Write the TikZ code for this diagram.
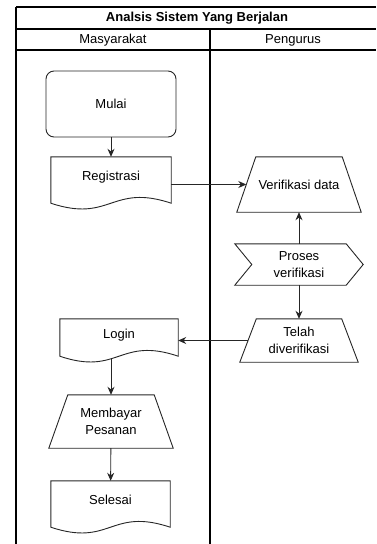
\documentclass[tikz,border=0pt]{standalone}
\usepackage{fontspec}
\setmainfont{Liberation Sans}
\usetikzlibrary{arrows.meta,positioning}

\begin{document}
\begin{tikzpicture}[x=1pt,y=-1pt,
  every node/.style={font=\fontsize{13}{16.5}\selectfont, align=center, inner sep=0pt},
  garis/.style={draw=black!85, line width=0.9pt},
  bingkai/.style={draw=black, line width=1.1pt},
  panah/.style={-{Stealth[length=8pt,width=7pt]}, line width=0.9pt, black!85},
  terminal/.style={garis, rectangle, rounded corners=8pt, minimum width=130pt, minimum height=66pt},
  dokumen/.style={rectangle, text depth=8pt},
  kotak/.style={rectangle}
]
\useasboundingbox (0,0) rectangle (376,544);

% swimlane
\draw [bingkai] (16,7) -- (376,7);
\draw [bingkai] (16,29) -- (376,29);
\draw [bingkai] (16,50) -- (376,50);
\draw [bingkai] (16,7) -- (16,544);
\draw [bingkai] (210,29) -- (210,544);
\node (judul) at (197,18) {\bfseries Analsis Sistem Yang Berjalan};
\node (masy) at (113,40) {Masyarakat};
\node (peng) at (293,40) {Pengurus};

% Masyarakat
\node [terminal] (mulai) at (111,104) {Mulai};
\node [dokumen, minimum width=120pt, minimum height=46pt] (reg) at (111,180) {Registrasi};
\node [dokumen, minimum width=118pt, minimum height=37pt] (login) at (119,337.5) {Login};
\node [kotak, minimum width=124pt, minimum height=53pt] (bayar) at (111,421.5) {Membayar\\Pesanan};
\node [dokumen, minimum width=119pt, minimum height=46pt] (selesai) at (110.5,504) {Selesai};

% Pengurus
\node [kotak, minimum width=124pt, minimum height=55pt] (verif) at (299,184.5) {Verifikasi data};
\node [kotak, minimum width=128pt, minimum height=41pt] (proses) at (299,264.5) {Proses\\verifikasi};
\node [kotak, minimum width=118pt, minimum height=43pt] (telah) at (299,340.5) {Telah\\diverifikasi};

% dokumen
\foreach \n/\w in {reg/60,login/59,selesai/60}
  \draw [garis] (\n.south west) -- (\n.north west) -- (\n.north east) -- (\n.south east)
    .. controls +(-\w,-20) and +(\w,20) .. (\n.south west) -- cycle;
% input manual
\foreach \n/\d in {bayar/19,verif/19,telah/16.5}
  \draw [garis] (\n.south west) -- (\n.south east) -- ([xshift=-\d pt]\n.north east)
    -- ([xshift=\d pt]\n.north west) -- cycle;
% langkah
\draw [garis] (proses.north west) -- ([xshift=-17pt]proses.north east) -- (proses.east)
  -- ([xshift=-17pt]proses.south east) -- (proses.south west) -- ([xshift=17pt]proses.west) -- cycle;

% alur
\draw [panah] (mulai) -- (reg);
\draw [panah] (reg.east |- verif.west) -- ([xshift=9.5pt]verif.west);
\draw [panah] (proses) -- (verif);
\draw [panah] (proses) -- (telah);
\draw [panah] ([xshift=8pt]telah.west) -- (telah.west -| login.east);
\draw [panah] ([yshift=-2pt]bayar.north |- login.south) -- (bayar);
\draw [panah] (bayar) -- (selesai);
\end{tikzpicture}
\end{document}
